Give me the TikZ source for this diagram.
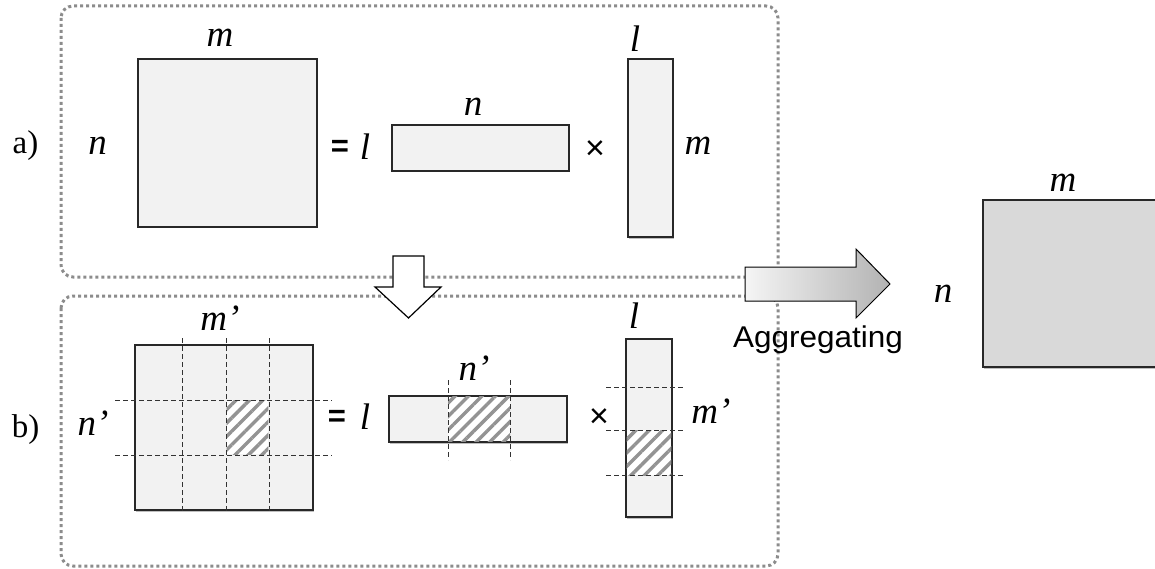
\documentclass[tikz,border=0pt]{standalone}
\usepackage{fontspec}
\setmainfont{Liberation Serif}
\newfontfamily\sansf{Liberation Sans}
\usetikzlibrary{patterns.meta,shadows,calc}

\definecolor{matfill}{RGB}{242,242,242}
\definecolor{outfill}{RGB}{217,217,217}
\definecolor{framegray}{RGB}{140,140,140}
\definecolor{edgecol}{RGB}{40,40,40}

\begin{document}
\begin{tikzpicture}[x=1pt,y=-1pt,
  mat/.style={draw=edgecol, line width=1.4pt, fill=matfill, inner sep=0pt, outer sep=0pt,
    drop shadow={shadow xshift=1pt, shadow yshift=-1.5pt, opacity=0.25, fill=black}},
  frame/.style={draw=framegray, line width=3pt, dash pattern=on 3pt off 3pt, rounded corners=12pt},
  cut/.style={draw=black!80, line width=1pt, dash pattern=on 5pt off 3pt},
  hatch/.style={preaction={fill=white}, pattern={Lines[angle=45,distance=9.5pt,line width=3.4pt]}, pattern color=gray!85},
  var/.style={font=\fontsize{37}{40}\selectfont\itshape, inner sep=0pt, anchor=base},
  tag/.style={font=\fontsize{33}{36}\selectfont, inner sep=0pt, anchor=base},
  op/.style={font=\sansf\fontsize{34}{36}\selectfont, inner sep=0pt},
  eqop/.style={font=\sansf\bfseries\fontsize{31}{33}\selectfont, inner sep=0pt},
  blockarrow/.style={draw=black, line width=1.2pt, line join=miter}
]
\useasboundingbox (0,0) rectangle (1155,569);

% dotted frames around the two formulations
\draw[frame] (61,6) rectangle (778,277);
\draw[frame] (61,296) rectangle (778,566);

% ---------- a) full product ----------
\node[tag] (ta) at (25.5,154) {a)};
\node[mat, minimum width=179pt, minimum height=168pt] (Sa) at (227.5,143) {};
\node[var] (Sam) at (220,47) {m};
\node[var] (San) at (97.5,155) {n};
\node[eqop] (eqa) at (340,148) {=};
\node[var] (la) at (365,160) {l};
\node[mat, minimum width=177pt, minimum height=46pt] (Ha) at (480.5,148) {};
\node[var] (Han) at (473,116) {n};
\node[op] (xa) at (595,150) {×};
\node[mat, minimum width=45pt, minimum height=178pt] (Va) at (650.5,148) {};
\node[var] (Val) at (635,52) {l};
\node[var] (Vam) at (698,155) {m};

% ---------- b) blocked product ----------
\node[tag] (tb) at (25.5,437) {b)};
\node[mat, minimum width=178pt, minimum height=165pt] (Sb) at (224,427.5) {};
\path[hatch] (226.6,400.6) rectangle (268.4,454.4);
\foreach \xx in {182,226,269} \draw[cut] (\xx,338) -- (\xx,512);
\foreach \yy in {400,455} \draw[cut] (115,\yy) -- (332,\yy);
\node[var] (Sbm) at (220,330) {m’};
\node[var] (Sbn) at (93,435) {n’};
\node[eqop] (eqb) at (337,418) {=};
\node[var] (lb) at (365,429) {l};

\node[mat, minimum width=178pt, minimum height=46pt] (Hb) at (478,419) {};
\path[hatch] (448,396.6) rectangle (510,441.4);
\foreach \xx in {448,510} \draw[cut] (\xx,380) -- (\xx,460);
\node[var] (Hbn) at (474,380) {n’};
\node[op] (xb) at (599,418) {×};

\node[mat, minimum width=46pt, minimum height=178pt] (Vb) at (649,428) {};
\path[hatch] (626.6,430) rectangle (671.4,475);
\foreach \yy in {387,430,475} \draw[cut] (606,\yy) -- (683,\yy);
\node[var] (Vbl) at (634,328) {l};
\node[var] (Vbm) at (711,423) {m’};

% hollow arrow from a) down to b)
\coordinate (dtop) at (408.5,256);
\draw[blockarrow, fill=white]
  ($(dtop)+(-15.5,0)$) -- ($(dtop)+(15.5,0)$) -- ($(dtop)+(15.5,31)$) -- ($(dtop)+(32.5,31)$)
  -- ($(dtop)+(0,62)$) -- ($(dtop)+(-33.5,31)$) -- ($(dtop)+(-15.5,31)$) -- cycle;

% aggregated result
\begin{scope}
\clip (0,0) rectangle (1155,569);
\node[mat, fill=outfill, minimum width=180pt, minimum height=167pt, anchor=north west] (R) at (983,200) {};
\end{scope}
\node[var] (Rm) at (1063,192) {m};
\node[var] (Rn) at (943,302) {n};

% shaded arrow towards the result
\coordinate (atail) at (745,284);
\shade[left color=white!96!black, right color=black!30]
  ($(atail)+(0,-17)$) -- ($(atail)+(111,-17)$) -- ($(atail)+(111,-35)$) -- ($(atail)+(145,0)$)
  -- ($(atail)+(111,34)$) -- ($(atail)+(111,17)$) -- ($(atail)+(0,17)$) -- cycle;
\draw[blockarrow, line width=1pt]
  ($(atail)+(0,-17)$) -- ($(atail)+(111,-17)$) -- ($(atail)+(111,-35)$) -- ($(atail)+(145,0)$)
  -- ($(atail)+(111,34)$) -- ($(atail)+(111,17)$) -- ($(atail)+(0,17)$) -- cycle;
\node[font=\sansf\fontsize{30}{32}\selectfont, inner sep=0pt, anchor=base] (agg) at (818,347)
  {\scalebox{1.05}[1]{Aggregating}};
\end{tikzpicture}
\end{document}
